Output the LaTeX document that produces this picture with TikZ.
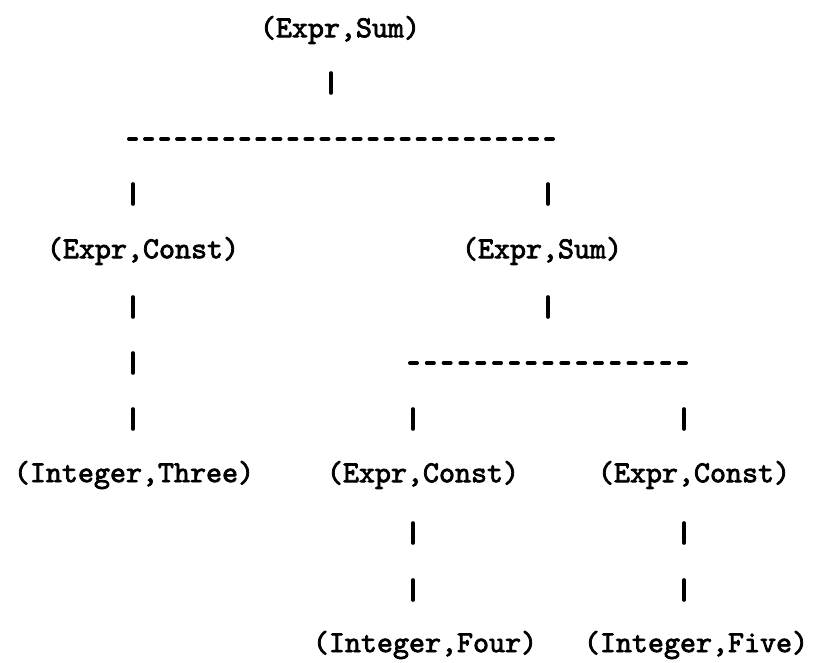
\documentclass[tikz,border=0pt]{standalone}
\usepackage{fontspec}
\newfontfamily\treefont{lmmono10-regular.otf}[FakeBold=2.5]
\begin{document}
\begin{tikzpicture}[x=1pt,y=-1pt,
  lbl/.style={font=\fontsize{30.5}{30.5}\selectfont\treefont, inner sep=0pt, anchor=center},
  bar/.style={line width=3.6pt, line cap=round},
  hlineA/.style={line width=4pt, line cap=round, dash pattern=on 7pt off 9.04pt},
  hlineB/.style={line width=4pt, line cap=round, dash pattern=on 7pt off 9.81pt}]
\useasboundingbox (0,0) rectangle (814,663);
% labels
\node[lbl] (root) at (340,30) {(Expr,Sum)};
\node[lbl] (c1) at (143,251) {(Expr,Const)};
\node[lbl] (s1) at (542,251) {(Expr,Sum)};
\node[lbl] (i3) at (134,475) {(Integer,Three)};
\node[lbl] (c2) at (423,475) {(Expr,Const)};
\node[lbl] (c3) at (694,475) {(Expr,Const)};
\node[lbl] (i4) at (425,645) {(Integer,Four)};
\node[lbl] (i5) at (696,645) {(Integer,Five)};
% connector points
\coordinate (a1) at (331,73);  \coordinate (a2) at (331,93);
\coordinate (hAL) at (129,139); \coordinate (hAR) at (553,139);
\coordinate (b1) at (133,184); \coordinate (b2) at (133,204);
\coordinate (b3) at (548,184); \coordinate (b4) at (548,204);
\coordinate (d1) at (133,297); \coordinate (d2) at (133,317);
\coordinate (d3) at (548,297); \coordinate (d4) at (548,317);
\coordinate (e1) at (133,353); \coordinate (e2) at (133,373);
\coordinate (hBL) at (410,363); \coordinate (hBR) at (686,363);
\coordinate (f1) at (133,409); \coordinate (f2) at (133,429);
\coordinate (f3) at (413,409); \coordinate (f4) at (413,429);
\coordinate (f5) at (684,409); \coordinate (f6) at (684,429);
\coordinate (g1) at (413,523); \coordinate (g2) at (413,543);
\coordinate (g3) at (684,523); \coordinate (g4) at (684,543);
\coordinate (k1) at (413,580); \coordinate (k2) at (413,600);
\coordinate (k3) at (684,580); \coordinate (k4) at (684,600);
% connectors
\draw[bar] (a1) -- (a2);
\draw[hlineA] (hAL) -- (hAR);
\draw[bar] (b1) -- (b2);
\draw[bar] (b3) -- (b4);
\draw[bar] (d1) -- (d2);
\draw[bar] (d3) -- (d4);
\draw[bar] (e1) -- (e2);
\draw[hlineB] (hBL) -- (hBR);
\draw[bar] (f1) -- (f2);
\draw[bar] (f3) -- (f4);
\draw[bar] (f5) -- (f6);
\draw[bar] (g1) -- (g2);
\draw[bar] (g3) -- (g4);
\draw[bar] (k1) -- (k2);
\draw[bar] (k3) -- (k4);
\end{tikzpicture}
\end{document}
